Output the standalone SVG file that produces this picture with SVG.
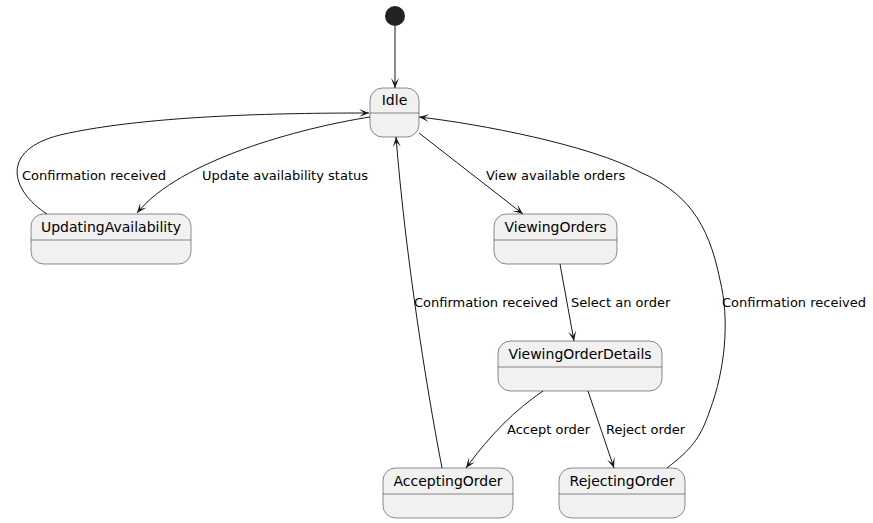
<svg xmlns="http://www.w3.org/2000/svg" width="873" height="523" viewBox="0 0 873 523">
<defs>
<style>
.st rect{fill:#F1F1F1;stroke:#181818;stroke-width:0.5}
.st line{stroke:#181818;stroke-width:0.5}
.nm{font-family:"DejaVu Sans",sans-serif;font-size:14px;fill:#000;text-anchor:middle}
.lb{font-family:"DejaVu Sans",sans-serif;font-size:13px;fill:#000}
#edges path{fill:none;stroke:#181818;stroke-width:1;marker-end:url(#ah)}
</style>
<marker id="ah" viewBox="0 0 10 10" refX="10" refY="5" markerWidth="10" markerHeight="10" markerUnits="userSpaceOnUse" orient="auto">
<path d="M0,1 L10,5 L0,9 L5,5 Z" fill="#181818"/>
</marker>
</defs>
<rect width="873" height="523" fill="#FFFFFF"/>
<g id="start"><circle cx="395" cy="16" r="10" fill="#222222"/></g>
<g id="Idle" class="st"><rect x="370" y="88" width="49" height="49" rx="12.5"/><line x1="370" y1="113" x2="419" y2="113"/><text class="nm" x="394.5" y="105">Idle</text></g>
<g id="UpdatingAvailability" class="st"><rect x="31" y="214" width="160" height="50" rx="12.5"/><line x1="31" y1="240" x2="191" y2="240"/><text class="nm" x="111" y="232">UpdatingAvailability</text></g>
<g id="ViewingOrders" class="st"><rect x="494" y="214" width="123" height="50" rx="12.5"/><line x1="494" y1="240" x2="617" y2="240"/><text class="nm" x="555.5" y="232">ViewingOrders</text></g>
<g id="ViewingOrderDetails" class="st"><rect x="498" y="341" width="164" height="50" rx="12.5"/><line x1="498" y1="367" x2="662" y2="367"/><text class="nm" x="580" y="359">ViewingOrderDetails</text></g>
<g id="AcceptingOrder" class="st"><rect x="383" y="468" width="130" height="50" rx="12.5"/><line x1="383" y1="494" x2="513" y2="494"/><text class="nm" x="448" y="486">AcceptingOrder</text></g>
<g id="RejectingOrder" class="st"><rect x="559" y="468" width="126" height="50" rx="12.5"/><line x1="559" y1="494" x2="685" y2="494"/><text class="nm" x="622" y="486">RejectingOrder</text></g>
<g id="edges">
<path d="M395,26 L395,88"/>
<path d="M370,117 C300,128 180,160 137,213"/>
<path d="M47,214 C10,190 0,150 60,135 C150,114 300,113 369,113"/>
<path d="M419,133 L523,214"/>
<path d="M560,264 L574,341"/>
<path d="M543,391 C515,410 490,435 466,468"/>
<path d="M588,391 L614,468"/>
<path d="M442,468 C425,380 405,250 396,137"/>
<path d="M667,468 C690,450 700,440 710,410 C725,370 730,320 720,280 C708,220 685,192 640,172 C590,145 480,124 419,117"/>
<text class="lb" x="22" y="180">Confirmation received</text>
<text class="lb" x="202" y="180">Update availability status</text>
<text class="lb" x="486" y="180">View available orders</text>
<text class="lb" x="571" y="307">Select an order</text>
<text class="lb" x="414" y="307">Confirmation received</text>
<text class="lb" x="722" y="307">Confirmation received</text>
<text class="lb" x="507" y="434">Accept order</text>
<text class="lb" x="606" y="434">Reject order</text>
</g>
</svg>
